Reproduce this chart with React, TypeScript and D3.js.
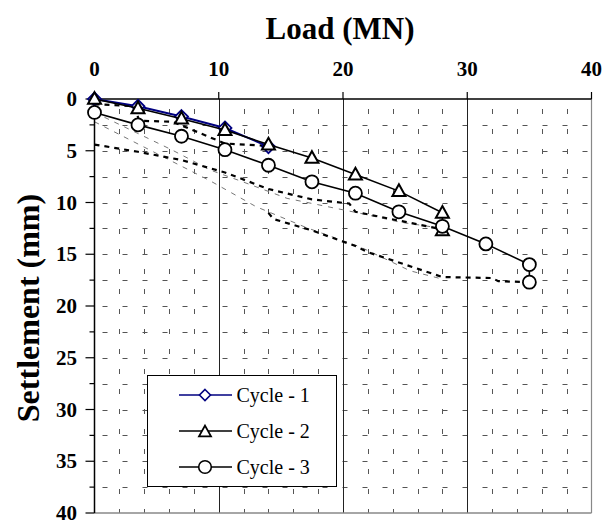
import React from "react";
import * as d3 from "d3";

const W = 603;
const H = 525;

// Axis ticks
const xTicks = [0, 10, 20, 30, 40];
const yTicks = [0, 5, 10, 15, 20, 25, 30, 35, 40];
const xMinorGrid = [2, 4, 6, 8, 12, 14, 16, 18, 22, 24, 26, 28, 32, 34, 36, 38];
const yMinorGrid = [2.5, 5, 7.5, 10, 12.5, 15, 17.5, 20, 22.5, 25, 27.5, 30, 32.5, 35, 37.5];

// Series (Load MN, Settlement mm)
const cycle1Load = [0, 3.5, 7, 10.5, 14];
const cycle1Settle = [0, 0.7, 1.7, 2.8, 4.6];

const cycle2Load = [0, 3.5, 7, 10.5, 14, 17.5, 21, 24.5, 28, 28];
const cycle2Settle = [0, 0.9, 1.9, 3.0, 4.4, 5.7, 7.3, 8.9, 11.0, 12.7];

const cycle3Load = [0, 3.5, 7, 10.5, 14, 17.5, 21, 24.5, 28, 31.5, 35, 35];
const cycle3Settle = [1.3, 2.5, 3.6, 4.9, 6.4, 8.0, 9.1, 10.9, 12.3, 14.0, 16.0, 17.7];

// Unloading / reloading paths (black dashed)
const pathALoad = [0, 3.2, 3.6, 6.3, 10.5, 13.6, 14];
const pathASettle = [0.5, 0.7, 2.1, 2.2, 4.3, 4.5, 4.7];

const pathBLoad = [0, 3.5, 7, 10.5, 14, 17.5, 20.5, 21, 28];
const pathBSettle = [4.4, 5.1, 5.9, 7.1, 8.7, 9.7, 10.1, 10.9, 12.6];

const pathCLoad = [14, 14.4, 17.5, 21, 22, 28, 32, 32.5, 35];
const pathCSettle = [11.0, 11.6, 12.7, 14.2, 14.8, 17.2, 17.3, 17.6, 17.7];

// Thin gray dashed paths
const grayALoad = [0, 9.3, 13, 17, 21.4, 25.4, 28];
const grayASettle = [2.2, 7.9, 10.4, 12.4, 14.3, 16.6, 17.4];

const grayBLoad = [0, 6.2, 9.4, 11.7, 15.5, 21.6, 24.6, 28];
const grayBSettle = [1.3, 4.9, 6.9, 7.9, 9.6, 11.1, 11.9, 12.5];

const legendLabels = ["Cycle - 1", "Cycle - 2", "Cycle - 3"];

const NAVY = "#000080";
const SERIF = "'Liberation Serif', 'Times New Roman', serif";

const x = d3.scaleLinear().domain([0, 40]).range([94.5, 591.5]);
const y = d3.scaleLinear().domain([0, 40]).range([99, 513]);

const zip = (xs: number[], ys: number[]) => xs.map((v, i) => [v, ys[i]] as [number, number]);
const line = d3
  .line<[number, number]>()
  .x((d) => x(d[0]))
  .y((d) => y(d[1]));

const triPath = (cx: number, cy: number, s = 13) => {
  const h = s * 0.9;
  return `M${cx},${cy - h / 2 - 1}L${cx + s / 2},${cy + h / 2 - 1}L${cx - s / 2},${cy + h / 2 - 1}Z`;
};
const diaPath = (cx: number, cy: number, r = 6.5) =>
  `M${cx},${cy - r}L${cx + r},${cy}L${cx},${cy + r}L${cx - r},${cy}Z`;

export default function App() {
  const c1 = zip(cycle1Load, cycle1Settle);
  const c2 = zip(cycle2Load, cycle2Settle);
  const c3 = zip(cycle3Load, cycle3Settle);

  const legX0 = 147.5;
  const legY0 = 375.5;
  const legW = 189;
  const legH = 111;
  const rows = [395, 431, 467];

  return (
    <svg
      width={W}
      height={H}
      style={{ position: "absolute", left: 0, top: 0, background: "#fff" }}
      fontFamily={SERIF}
    >
      <rect x={0} y={0} width={W} height={H} fill="#fff" />
      {/* minor grid */}
      {yMinorGrid.map((v) => (
        <line
          key={"hy" + v}
          x1={x(0)}
          x2={x(40)}
          y1={Math.round(y(v)) + 0.5}
          y2={Math.round(y(v)) + 0.5}
          stroke="#555"
          strokeWidth={1}
          strokeDasharray="5 15"
          strokeDashoffset={-8}
        />
      ))}
      {xMinorGrid.map((v) => (
        <line
          key={"vx" + v}
          x1={Math.round(x(v)) + 0.5}
          x2={Math.round(x(v)) + 0.5}
          y1={y(0)}
          y2={y(40)}
          stroke="#555"
          strokeWidth={1}
          strokeDasharray="5 15"
          strokeDashoffset={-10}
        />
      ))}
      {/* major vertical grid */}
      {[10, 20, 30].map((v) => (
        <line
          key={"mx" + v}
          x1={Math.round(x(v)) + 0.5}
          x2={Math.round(x(v)) + 0.5}
          y1={y(0)}
          y2={y(40)}
          stroke="#222"
          strokeWidth={1}
        />
      ))}
      {/* plot border right / bottom */}
      <line x1={x(40)} x2={x(40)} y1={y(0)} y2={y(40)} stroke="#888" strokeWidth={1.2} />
      <line x1={x(0)} x2={x(40)} y1={y(40)} y2={y(40)} stroke="#888" strokeWidth={1.5} />

      {/* gray thin dashed */}
      {[zip(grayALoad, grayASettle), zip(grayBLoad, grayBSettle)].map((d, i) => (
        <path
          key={"g" + i}
          d={line(d) || ""}
          fill="none"
          stroke="#777"
          strokeWidth={1}
          strokeDasharray="5 6"
        />
      ))}
      {/* black dashed */}
      {[zip(pathALoad, pathASettle), zip(pathBLoad, pathBSettle), zip(pathCLoad, pathCSettle)].map((d, i) => (
        <path
          key={"b" + i}
          d={line(d) || ""}
          fill="none"
          stroke="#000"
          strokeWidth={2.2}
          strokeDasharray="5 5"
        />
      ))}

      {/* axes */}
      <line x1={x(0)} x2={x(40)} y1={y(0)} y2={y(0)} stroke="#000" strokeWidth={1.5} />
      <line x1={x(0)} x2={x(0)} y1={y(0)} y2={y(40)} stroke="#000" strokeWidth={1.5} />
      {xTicks.map((v) => (
        <g key={"xt" + v}>
          <line x1={x(v)} x2={x(v)} y1={y(0)} y2={y(0) - 7} stroke="#000" strokeWidth={1.2} />
          <text x={x(v)} y={76} textAnchor="middle" fontSize={21} fontWeight="bold">
            {v}
          </text>
        </g>
      ))}
      {yTicks.map((v) => (
        <g key={"yt" + v}>
          <line x1={x(0) - 9} x2={x(0)} y1={y(v)} y2={y(v)} stroke="#000" strokeWidth={1.2} />
          <text x={77} y={y(v) + 7} textAnchor="end" fontSize={21} fontWeight="bold">
            {v}
          </text>
        </g>
      ))}
      {yMinorGrid
        .filter((v) => v % 5 !== 0)
        .map((v) => (
          <line key={"ym" + v} x1={x(0) - 5} x2={x(0)} y1={y(v)} y2={y(v)} stroke="#000" strokeWidth={1.2} />
        ))}

      {/* titles */}
      <text x={340} y={39} textAnchor="middle" fontSize={31} fontWeight="bold">
        Load (MN)
      </text>
      <text
        transform={`translate(39,${(y(0) + y(40)) / 2 + 2}) rotate(-90)`}
        textAnchor="middle"
        fontSize={32}
        fontWeight="bold"
      >
        Settlement (mm)
      </text>

      {/* Cycle 1 */}
      <path d={line(c1) || ""} fill="none" stroke={NAVY} strokeWidth={2} />
      {c1.map((d, i) => (
        <path key={"d" + i} d={diaPath(x(d[0]), y(d[1]))} fill="#fff" stroke={NAVY} strokeWidth={1.8} />
      ))}
      {/* Cycle 2 */}
      <path d={line(c2) || ""} fill="none" stroke="#000" strokeWidth={1.6} />
      {c2.map((d, i) => (
        <path key={"t" + i} d={triPath(x(d[0]), y(d[1]))} fill="#fff" stroke="#000" strokeWidth={2} />
      ))}
      {/* Cycle 3 */}
      <path d={line(c3) || ""} fill="none" stroke="#000" strokeWidth={1.6} />
      {c3.map((d, i) => (
        <circle key={"c" + i} cx={x(d[0])} cy={y(d[1])} r={6.5} fill="#fff" stroke="#000" strokeWidth={1.8} />
      ))}

      {/* legend */}
      <rect x={legX0} y={legY0} width={legW} height={legH} fill="#fff" stroke="#000" strokeWidth={1} />
      {legendLabels.map((lab, i) => {
        const cy = rows[i];
        const stroke = i === 0 ? NAVY : "#000";
        return (
          <g key={lab}>
            <line x1={179} x2={232} y1={cy} y2={cy} stroke={stroke} strokeWidth={1.5} />
            {i === 0 && <path d={diaPath(205, cy, 5.5)} fill="#fff" stroke={NAVY} strokeWidth={1.6} />}
            {i === 1 && <path d={triPath(205, cy + 1, 12)} fill="#fff" stroke="#000" strokeWidth={1.8} />}
            {i === 2 && <circle cx={205} cy={cy} r={6.3} fill="#fff" stroke="#000" strokeWidth={1.6} />}
            <text x={236.5} y={cy + 7} fontSize={20}>
              {lab}
            </text>
          </g>
        );
      })}
    </svg>
  );
}
